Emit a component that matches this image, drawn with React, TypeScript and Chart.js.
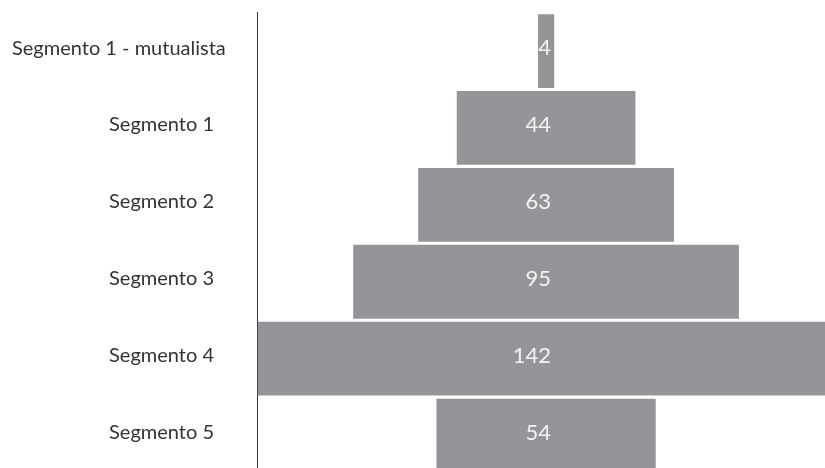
import React, { useEffect, useRef } from "react";
import { Chart, registerables } from "chart.js";

Chart.register(...registerables);

const categories: string[] = [
  "Segmento 1 - mutualista",
  "Segmento 1",
  "Segmento 2",
  "Segmento 3",
  "Segmento 4",
  "Segmento 5",
];
const values: number[] = [4, 44, 63, 95, 142, 54];

const FONT = "Lato, 'Open Sans', sans-serif";

// value labels drawn inside each bar
const labelPlugin = {
  id: "centerLabels",
  afterDatasetsDraw(chart: any) {
    const { ctx } = chart;
    const meta = chart.getDatasetMeta(0);
    ctx.save();
    ctx.fillStyle = "#f4f4f4";
    ctx.font = `22px ${FONT}`;
    ctx.textAlign = "right";
    ctx.textBaseline = "middle";
    meta.data.forEach((bar: any, i: number) => {
      const p = bar.getProps(["x", "base", "y"], true);
      const cx = (p.x + p.base) / 2;
      ctx.fillText(String(values[i]), cx + 5, p.y - 3);
    });
    ctx.restore();
  },
};

// category labels: right aligned, but never pushed past the left margin
const categoryPlugin = {
  id: "categoryLabels",
  afterDraw(chart: any) {
    const { ctx } = chart;
    const y = chart.scales.y;
    ctx.save();
    ctx.fillStyle = "#333333";
    ctx.font = `20px ${FONT}`;
    ctx.textAlign = "left";
    ctx.textBaseline = "middle";
    categories.forEach((lab, i) => {
      const w = ctx.measureText(lab).width;
      const right = y.right - 43;
      const left = Math.max(12, right - w);
      ctx.fillText(lab, left, y.getPixelForTick(i) - 3);
    });
    ctx.restore();
  },
};

export default function App() {
  const ref = useRef<HTMLCanvasElement | null>(null);
  useEffect(() => {
    if (!ref.current) return;
    const chart = new Chart(ref.current, {
      type: "bar",
      data: {
        labels: categories,
        datasets: [
          {
            data: values.map((v) => [-v / 2, v / 2]) as any,
            backgroundColor: "#939598",
            borderWidth: 0,
            barPercentage: 0.96,
            categoryPercentage: 1,
          },
        ],
      },
      options: {
        indexAxis: "y",
        animation: false,
        responsive: false,
        maintainAspectRatio: false,
        layout: { padding: { top: 12.6, right: 0, bottom: 0, left: 0 } },
        plugins: {
          legend: { display: false },
          tooltip: { enabled: false },
        },
        scales: {
          x: {
            display: false,
            min: -71.2,
            max: 68.7,
          },
          y: {
            afterFit(scale: any) {
              scale.width = 257;
              scale.paddingTop = 0;
              scale.paddingBottom = 0;
            },
            grid: { display: false, drawTicks: false },
            border: { display: true, color: "#333333", width: 1 },
            ticks: { display: false },
          },
        },
      },
      plugins: [labelPlugin, categoryPlugin],
    });
    return () => chart.destroy();
  }, []);
  return (
    <div
      style={{
        position: "fixed",
        left: 0,
        top: 0,
        width: 825,
        height: 474,
        background: "#fff",
      }}
    >
      <canvas ref={ref} width={825} height={474} style={{ width: 825, height: 474, display: "block" }} />
    </div>
  );
}
